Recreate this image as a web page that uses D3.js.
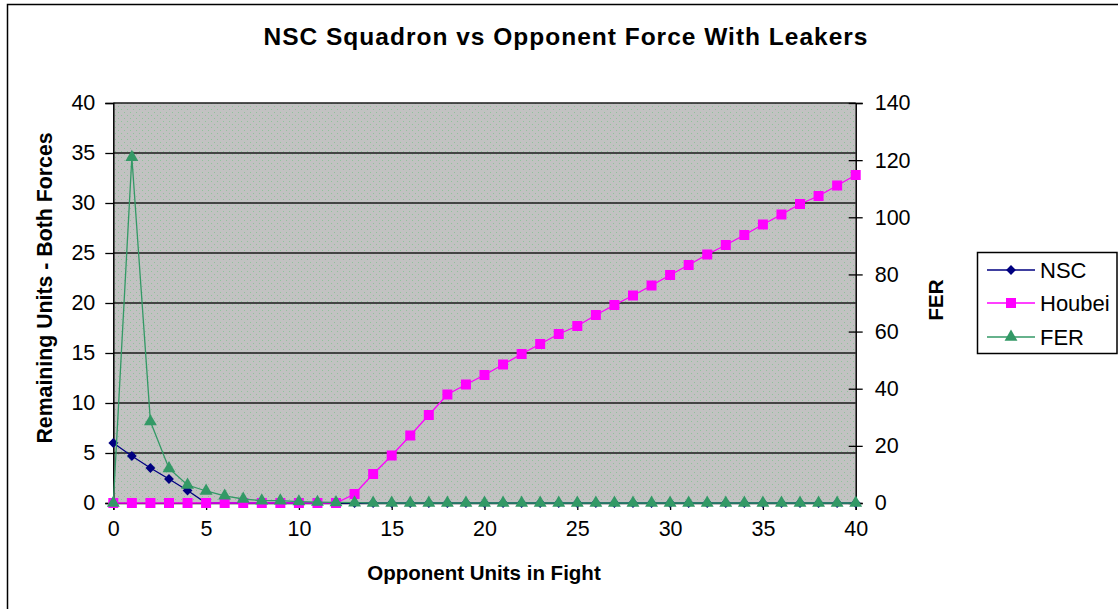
<!DOCTYPE html>
<html>
<head>
<meta charset="utf-8">
<script src="https://cdn.jsdelivr.net/npm/d3@7"></script>
<style>
  html, body { margin: 0; padding: 0; background: #fff; }
  svg { display: block; font-family: "Liberation Sans", Arial, sans-serif; }
</style>
</head>
<body>
<svg id="chart" width="1118" height="609"></svg>
<script>
// ---- data ----
const xValues = d3.range(0, 41);
const nscValues = [6, 4.7, 3.5, 2.4, 1.25, 0, 0, 0, 0, 0, 0, 0, 0, 0, 0, 0, 0, 0, 0, 0, 0,
  0, 0, 0, 0, 0, 0, 0, 0, 0, 0, 0, 0, 0, 0, 0, 0, 0, 0, 0, 0];
const houbeiValues = [0, 0, 0, 0, 0, 0, 0, 0, 0, 0, 0, 0, 0, 0.9, 2.9, 4.75, 6.75, 8.8, 10.85, 11.85, 12.8,
  13.85, 14.9, 15.9, 16.9, 17.7, 18.8, 19.8, 20.75, 21.75, 22.8, 23.8, 24.85, 25.8, 26.8, 27.85, 28.85, 29.9, 30.7, 31.75, 32.8];
const ferValues = [0, 121, 28.5, 12.1, 6.3, 4.2, 2.5, 1.4, 0.8, 0.8, 0.5, 0.3, 0.2, 0.1, 0, 0, 0, 0, 0, 0, 0,
  0, 0, 0, 0, 0, 0, 0, 0, 0, 0, 0, 0, 0, 0, 0, 0, 0, 0, 0, 0];
const xTicks = [0, 5, 10, 15, 20, 25, 30, 35, 40];
const leftTicks = [0, 5, 10, 15, 20, 25, 30, 35, 40];
const rightTicks = [0, 20, 40, 60, 80, 100, 120, 140];
const seriesNames = ["NSC", "Houbei", "FER"];
const titleText = "NSC Squadron vs Opponent Force With Leakers";
const xTitle = "Opponent Units in Fight";
const yLeftTitle = "Remaining Units - Both Forces";
const yRightTitle = "FER";

// ---- layout ----
const svg = d3.select("#chart");
const L = 113.3, R = 855.7, T = 103, B = 503;
const x = d3.scaleLinear().domain([0, 40]).range([L, R]);
const yL = d3.scaleLinear().domain([0, 40]).range([B, T]);
const yR = d3.scaleLinear().domain([0, 140]).range([B, T]);

const colors = { NSC: "#000080", Houbei: "#ff00ff", FER: "#339966" };

// outer frame
svg.append("rect").attr("x", 7.5).attr("y", 4.5).attr("width", 1130).attr("height", 620)
  .attr("fill", "#fff").attr("stroke", "#000").attr("stroke-width", 1.5);

// plot area background with dotted pattern
const defs = svg.append("defs");
const pat = defs.append("pattern").attr("id", "dots").attr("patternUnits", "userSpaceOnUse")
  .attr("width", 6).attr("height", 6);
pat.append("rect").attr("width", 6).attr("height", 6).attr("fill", "#c2c2c2");
pat.append("rect").attr("x", 1).attr("y", 1).attr("width", 1).attr("height", 1).attr("fill", "#8fc39a");
pat.append("rect").attr("x", 4).attr("y", 4).attr("width", 1).attr("height", 1).attr("fill", "#8fc39a");
svg.append("rect").attr("x", L).attr("y", T).attr("width", R - L).attr("height", B - T)
  .attr("fill", "url(#dots)");

// gridlines
svg.append("g").selectAll("line").data(leftTicks.filter(d => d > 0)).join("line")
  .attr("x1", L).attr("x2", R).attr("y1", d => yL(d)).attr("y2", d => yL(d))
  .attr("stroke", "#1a1a1a").attr("stroke-width", 1.5);

// axes
const fs = 21.5;
const gL = svg.append("g").attr("transform", `translate(${L},0)`)
  .call(d3.axisLeft(yL).tickValues(leftTicks).tickSize(8).tickPadding(10));
const gR = svg.append("g").attr("transform", `translate(${R},0)`)
  .call(d3.axisRight(yR).tickValues(rightTicks).tickSize(7).tickPadding(12));
gR.selectAll(".tick line").attr("x1", -7);
const gX = svg.append("g").attr("transform", `translate(0,${B})`)
  .call(d3.axisBottom(x).tickValues(xTicks).tickSize(7).tickPadding(11));
[gL, gR, gX].forEach(g => {
  g.select(".domain").attr("stroke", "#000").attr("stroke-width", 1.5);
  g.selectAll(".tick line").attr("stroke", "#000").attr("stroke-width", 1.3);
  g.selectAll(".tick text").attr("font-size", fs).attr("fill", "#000")
    .attr("font-family", "Liberation Sans, Arial, sans-serif");
});

// series
const pts = name => {
  const vals = name === "NSC" ? nscValues : name === "Houbei" ? houbeiValues : ferValues;
  const ys = name === "FER" ? yR : yL;
  return xValues.map((xv, i) => [x(xv), ys(vals[i])]);
};
const line = d3.line();
const symbols = { NSC: d3.symbolSquare, Houbei: d3.symbolSquare, FER: d3.symbolTriangle };
const sizes = { NSC: 48, Houbei: 100, FER: 72 };
const rot = { NSC: 45, Houbei: 0, FER: 0 };

function drawSeries(name) {
  const p = pts(name);
  svg.append("path").attr("d", line(p)).attr("fill", "none")
    .attr("stroke", colors[name]).attr("stroke-width", 1.3);
  svg.append("g").selectAll("path").data(p).join("path")
    .attr("transform", d => `translate(${d[0]},${d[1]}) rotate(${rot[name]})`)
    .attr("d", d3.symbol().type(symbols[name]).size(sizes[name]))
    .attr("fill", colors[name]);
}
drawSeries("NSC");
drawSeries("Houbei");
drawSeries("FER");

// titles
svg.append("text").attr("x", 566).attr("y", 45).attr("text-anchor", "middle")
  .attr("font-size", 24.5).attr("font-weight", "bold").attr("letter-spacing", 1).text(titleText);
svg.append("text").attr("x", 484).attr("y", 580).attr("text-anchor", "middle")
  .attr("font-size", 20.5).attr("font-weight", "bold").text(xTitle);
svg.append("text").attr("transform", "translate(52,288) rotate(-90)").attr("text-anchor", "middle")
  .attr("font-size", 21.3).attr("font-weight", "bold").text(yLeftTitle);
svg.append("text").attr("transform", "translate(943,300) rotate(-90)").attr("text-anchor", "middle")
  .attr("font-size", 20.5).attr("font-weight", "bold").text(yRightTitle);

// legend
const lg = svg.append("g");
lg.append("rect").attr("x", 977.5).attr("y", 252.5).attr("width", 139.5).attr("height", 101)
  .attr("fill", "#fff").attr("stroke", "#000").attr("stroke-width", 1.5);
const legY = [270, 303, 337];
seriesNames.forEach((name, i) => {
  const yy = legY[i];
  lg.append("line").attr("x1", 987).attr("x2", 1035).attr("y1", yy).attr("y2", yy)
    .attr("stroke", colors[name]).attr("stroke-width", 1.3);
  lg.append("path").attr("transform", `translate(1011,${yy}) rotate(${rot[name]})`)
    .attr("d", d3.symbol().type(symbols[name]).size(sizes[name])).attr("fill", colors[name]);
  lg.append("text").attr("x", 1040).attr("y", yy + 8).attr("font-size", 22).text(name);
});
</script>
</body>
</html>
